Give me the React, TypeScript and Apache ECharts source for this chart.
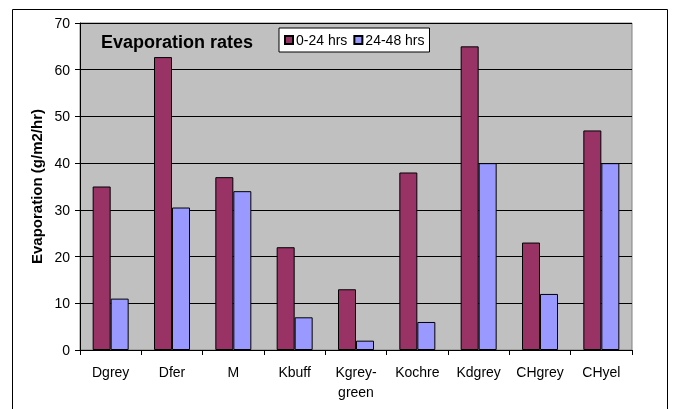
import React, { useEffect, useRef } from "react";
import * as echarts from "echarts";

const categories = ["Dgrey", "Dfer", "M", "Kbuff", "Kgrey-\ngreen", "Kochre", "Kdgrey", "CHgrey", "CHyel"];
const series0to24 = [35, 62.7, 37, 22, 13, 38, 65, 23, 47];
const series24to48 = [11, 30.5, 34, 7, 2, 6, 40, 12, 40];
const seriesNames = ["0-24 hrs", "24-48 hrs"];
const yTicks = { min: 0, max: 70, interval: 10 };

export default function App() {
  const ref = useRef<HTMLDivElement>(null);
  useEffect(() => {
    const chart = echarts.init(ref.current!, null, { renderer: "svg" });
    const font = "'Liberation Sans', Arial, sans-serif";
    chart.setOption({
      animation: false,
      textStyle: { fontFamily: font, color: "#000" },
      grid: { left: 80, right: 41, top: 23, bottom: 59, show: true, backgroundColor: "#C0C0C0", borderWidth: 1, borderColor: "#808080" },
      graphic: [
        {
          type: "rect",
          shape: { x: 12.5, y: 9.5, width: 655, height: 420 },
          style: { fill: "none", stroke: "#000", lineWidth: 1 },
          silent: true,
        },
        {
          type: "text",
          left: 101,
          top: 33,
          z: 10,
          style: { text: "Evaporation rates", font: `bold 18px ${font}`, fill: "#000" },
        },
      ],
      legend: {
        data: seriesNames,
        left: 279,
        top: 28,
        backgroundColor: "#fff",
        borderColor: "#000",
        borderWidth: 1,
        padding: [5, 5, 5, 5],
        itemWidth: 8,
        itemHeight: 8,
        itemGap: 6,
        icon: "rect",
        textStyle: { fontFamily: font, fontSize: 14, color: "#000", padding: [0, 0, 0, -2] },
      },
      xAxis: {
        type: "category",
        data: categories,
        axisLine: { lineStyle: { color: "#000", width: 1 } },
        axisTick: { show: true, length: 5, lineStyle: { color: "#000" } },
        axisLabel: { interval: 0, hideOverlap: false, color: "#000", fontSize: 14, margin: 12, lineHeight: 20, fontFamily: font },
      },
      yAxis: {
        type: "value",
        min: yTicks.min,
        max: yTicks.max,
        interval: yTicks.interval,
        name: "Evaporation (g/m2/hr)",
        nameLocation: "middle",
        nameGap: 36,
        nameTextStyle: { fontWeight: "bold", fontSize: 15, color: "#000", fontFamily: font },
        axisLine: { show: true, lineStyle: { color: "#000" } },
        axisTick: { show: true, length: 5, lineStyle: { color: "#000" } },
        axisLabel: { color: "#000", fontSize: 14, margin: 10, fontFamily: font },
        splitLine: { show: true, lineStyle: { color: "#000", width: 1 } },
      },
      series: [
        {
          name: seriesNames[0],
          type: "bar",
          data: series0to24,
          barWidth: 18,
          barGap: "0%",
          itemStyle: { color: "#993366", borderColor: "#000", borderWidth: 1 },
        },
        {
          name: seriesNames[1],
          type: "bar",
          data: series24to48,
          barWidth: 18,
          barGap: "0%",
          itemStyle: { color: "#9999FF", borderColor: "#000", borderWidth: 1 },
        },
      ],
    });
    return () => chart.dispose();
  }, []);
  return <div ref={ref} style={{ position: "fixed", left: 0, top: 0, width: 673, height: 409 }} />;
}
